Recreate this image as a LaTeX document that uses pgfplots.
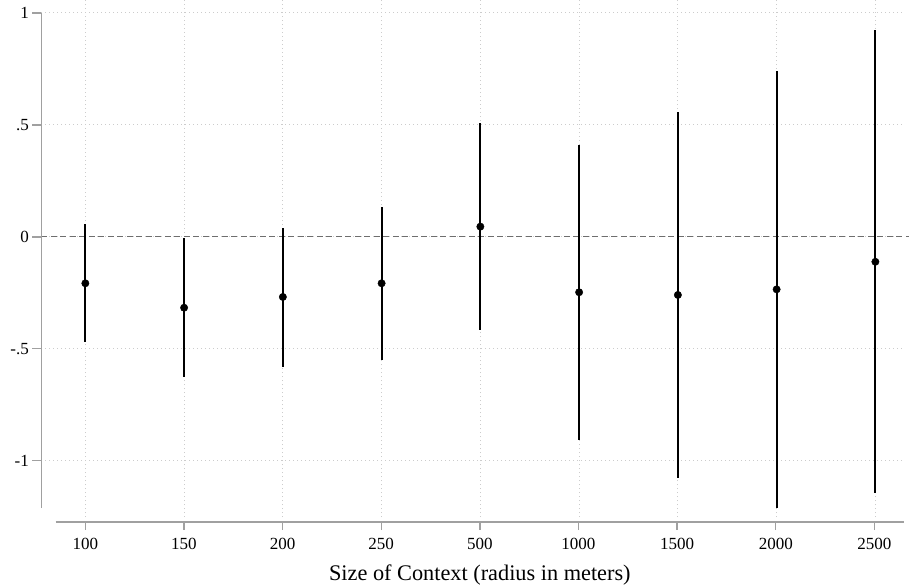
\documentclass[border=0pt]{standalone}
\usepackage{pgfplots}
\pgfplotsset{compat=1.18}
\usepackage{pgfplotstable}
\usepackage{fontspec}
\setmainfont{Liberation Serif}
\definecolor{axisgray}{HTML}{A0A0A0}
\definecolor{gridgray}{HTML}{CCCCCC}
\definecolor{zerogray}{HTML}{6E6E6E}
\pgfplotstableread{
x y lo hi
0 -0.208 -0.471 0.057
1 -0.317 -0.628 -0.004
2 -0.269 -0.583 0.040
3 -0.208 -0.550 0.134
4 0.045 -0.417 0.506
5 -0.248 -0.908 0.409
6 -0.260 -1.076 0.555
7 -0.235 -1.213 0.741
8 -0.112 -1.146 0.923
}\datatable
\begin{document}
\begin{tikzpicture}[x=1pt,y=1pt]
\path[use as bounding box] (0,0) rectangle (909,587);
% grid + data
\begin{axis}[
  at={(41.3pt,70pt)}, anchor=south west,
  scale only axis, width=863.7pt, height=517pt,
  xmin=-0.446, xmax=8.30, ymin=-1.2513, ymax=1.0567,
  axis line style={draw=none}, tick style={draw=none},
  xtick={0,...,8}, ytick={-1,-0.5,0,0.5,1},
  xticklabels={}, yticklabels={},
  grid=major,
  major grid style={gridgray, line width=0.9pt, dash pattern=on 0.9pt off 3.1pt},
  clip=false,
]
\addplot[zerogray, line width=1.5pt, dash pattern=on 6pt off 3.5pt] coordinates {(-0.446,0) (8.34,0)};
\addplot[black, only marks, mark=*, mark size=3.7pt,
  error bars/.cd, y dir=both, y explicit,
  error mark=none,
  error bar style={black, line width=2.1pt}]
  table[x=x, y=y, y error plus expr=\thisrow{hi}-\thisrow{y}, y error minus expr=\thisrow{y}-\thisrow{lo}] {\datatable};
\end{axis}
% y axis
\begin{axis}[
  at={(41.3pt,79pt)}, anchor=south west,
  scale only axis, width=863.7pt, height=495pt,
  xmin=0, xmax=1, ymin=-1.211, ymax=1,
  axis x line=none, axis y line=left,
  axis line style={axisgray, line width=1.3pt, -},
  ytick={-1,-0.5,0,0.5,1},
  yticklabels={-1,-.5,0,.5,1},
  tick align=outside, major tick length=9pt,
  tick style={axisgray, line width=1.3pt},
  yticklabel style={font=\fontsize{17}{20}\selectfont, black},
]
\end{axis}
% x axis
\begin{axis}[
  at={(55.7pt,65pt)}, anchor=south west,
  scale only axis, width=848.3pt, height=1pt,
  xmin=-0.3, xmax=8.3, ymin=0, ymax=1,
  axis y line=none, axis x line=bottom,
  axis line style={axisgray, line width=1.3pt, -},
  xtick={0,...,8},
  xticklabels={100,150,200,250,500,1000,1500,2000,2500},
  tick align=outside, major tick length=8pt,
  tick style={axisgray, line width=1.3pt},
  xticklabel style={font=\fontsize{17}{20}\selectfont, black, yshift=-5pt},
  xlabel={Size of Context (radius in meters)},
  xlabel style={font=\fontsize{22.3}{26}\selectfont, black, yshift=-8pt},
]
\end{axis}
\end{tikzpicture}
\end{document}
